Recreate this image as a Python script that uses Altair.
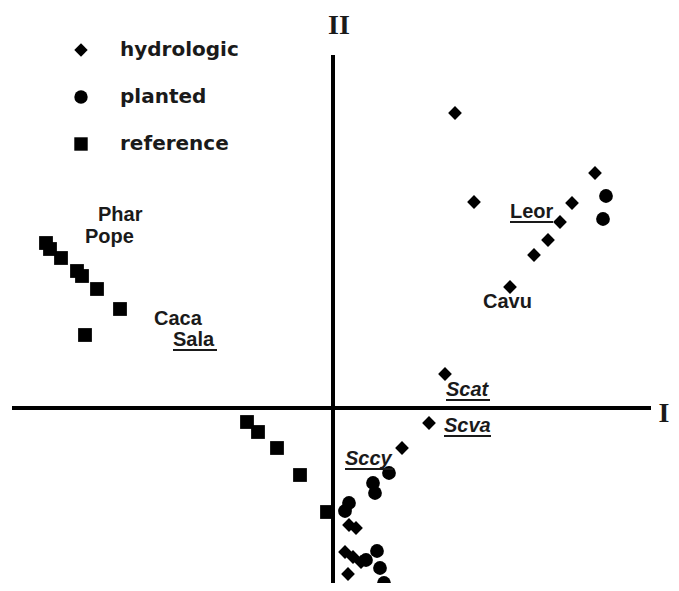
import altair as alt
import pandas as pd

# ordination scores (axis I, axis II)
ref_x = [-2.87, -2.83, -2.72, -2.56, -2.51, -2.36, -2.13, -2.48, -0.86, -0.75, -0.56, -0.33, -0.06]
ref_y = [1.65, 1.59, 1.50, 1.37, 1.32, 1.19, 0.99, 0.73, -0.14, -0.24, -0.40, -0.67, -1.04]

hyd_x = [1.22, 1.41, 2.62, 2.39, 2.27, 2.15, 2.01, 1.77, 1.12, 0.96, 0.69, 0.16, 0.23, 0.12, 0.20, 0.28, 0.15]
hyd_y = [2.95, 2.06, 2.35, 2.05, 1.86, 1.68, 1.53, 1.21, 0.34, -0.15, -0.40, -1.17, -1.20, -1.44, -1.49, -1.54, -1.66]

pla_x = [2.73, 2.70, 0.56, 0.40, 0.42, 0.16, 0.12, 0.33, 0.44, 0.47, 0.51]
pla_y = [2.12, 1.89, -0.65, -0.75, -0.85, -0.95, -1.03, -1.52, -1.43, -1.60, -1.75]

groups = ["hydrologic", "planted", "reference"]
shapes = ["diamond", "circle", "square"]

# species labels
lab_name = ["Phar", "Pope", "Caca", "Sala", "Leor", "Cavu", "Scat", "Scva", "Sccy"]
lab_x = [-2.35, -2.48, -1.79, -1.60, 1.77, 1.50, 1.13, 1.11, 0.12]
lab_y = [1.87, 1.65, 0.83, 0.62, 1.90, 1.00, 0.12, -0.24, -0.57]
lab_italic = [False, False, False, False, False, False, True, True, True]
lab_under = [False, False, False, True, True, False, True, True, True]
lab_end = [None, None, None, -1.16, 2.20, None, 1.57, 1.58, 0.60]

# axis lines and axis names
ax_x = [-3.21, 0.0]
ax_x2 = [3.18, 0.0]
ax_y = [0.0, 3.53]
ax_y2 = [0.0, -1.75]
axname = ["I", "II"]
axname_x = [3.31, 0.06]
axname_y = [-0.14, 3.74]

pts = pd.DataFrame(
    {"I": hyd_x + pla_x + ref_x,
     "II": hyd_y + pla_y + ref_y,
     "group": ["hydrologic"] * len(hyd_x) + ["planted"] * len(pla_x) + ["reference"] * len(ref_x)}
)
labs = pd.DataFrame({"name": lab_name, "x": lab_x, "y": lab_y, "italic": lab_italic,
                     "under": lab_under, "xend": lab_end})
axes_df = pd.DataFrame({"x": ax_x, "x2": ax_x2, "y": ax_y, "y2": ax_y2})
axn = pd.DataFrame({"name": axname, "x": axname_x, "y": axname_y})

xs = alt.Scale(domain=[-3.25, 3.38], nice=False, zero=False)
ys = alt.Scale(domain=[-1.75, 4.0], nice=False, zero=False)

lines = alt.Chart(axes_df).mark_rule(color="black", strokeWidth=4).encode(
    x=alt.X("x:Q", scale=xs, axis=None), x2="x2:Q",
    y=alt.Y("y:Q", scale=ys, axis=None), y2="y2:Q")

points = alt.Chart(pts).mark_point(filled=True, opacity=1, color="black").encode(
    x=alt.X("I:Q", scale=xs, axis=None),
    y=alt.Y("II:Q", scale=ys, axis=None),
    shape=alt.Shape("group:N", scale=alt.Scale(domain=groups, range=shapes),
                    legend=alt.Legend(orient="none", legendX=63, legendY=32, title=None,
                                      labelFont="DejaVu Sans", labelFontWeight="bold",
                                      labelFontSize=20, labelColor="#1a1a1a",
                                      symbolSize=180, symbolFillColor="black",
                                      symbolStrokeWidth=0, symbolOpacity=1,
                                      rowPadding=27, labelOffset=29, padding=0)),
    size=alt.value(190))

normal = alt.Chart(labs).transform_filter("!datum.italic").mark_text(
    font="Liberation Sans", fontWeight="bold", fontSize=20, align="left",
    baseline="alphabetic", color="#1a1a1a").encode(
    x=alt.X("x:Q", scale=xs, axis=None), y=alt.Y("y:Q", scale=ys, axis=None), text="name:N")

italic = alt.Chart(labs).transform_filter("datum.italic").mark_text(
    font="Liberation Sans", fontWeight="bold", fontStyle="italic", fontSize=20,
    align="left", baseline="alphabetic", color="#1a1a1a").encode(
    x=alt.X("x:Q", scale=xs, axis=None), y=alt.Y("y:Q", scale=ys, axis=None), text="name:N")

under = alt.Chart(labs).transform_filter("datum.under").transform_calculate(
    yu="datum.y - 0.04").mark_rule(color="#1a1a1a", strokeWidth=2).encode(
    x=alt.X("x:Q", scale=xs, axis=None), x2="xend:Q",
    y=alt.Y("yu:Q", scale=ys, axis=None))

names = alt.Chart(axn).mark_text(font="Liberation Serif", fontWeight="bold", fontSize=28,
                                 align="center", baseline="alphabetic", color="#1a1a1a").encode(
    x=alt.X("x:Q", scale=xs, axis=None), y=alt.Y("y:Q", scale=ys, axis=None), text="name:N")

chart = alt.layer(lines, points, normal, italic, under, names).properties(
    width=663, height=575, padding=0, autosize=alt.AutoSizeParams(type="none")
).configure_view(stroke=None)

chart.save("out.html", embed_options={"renderer": "svg", "actions": False})
